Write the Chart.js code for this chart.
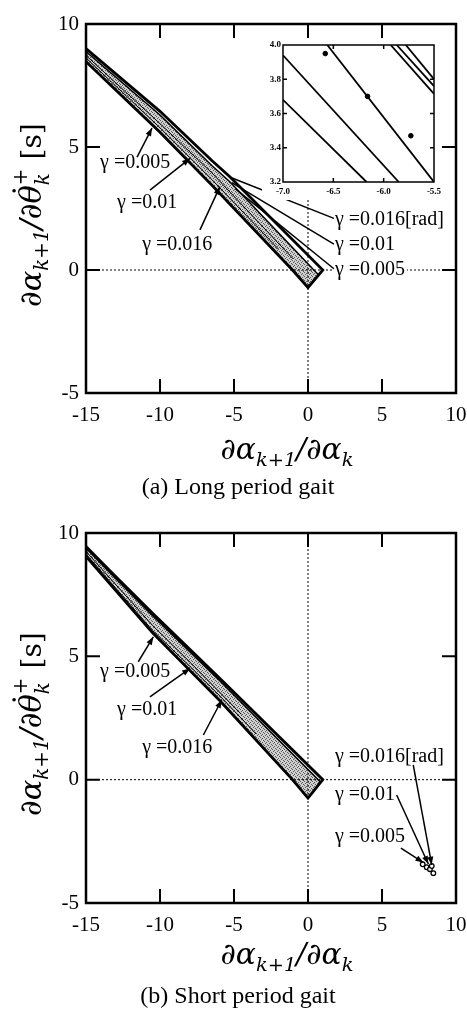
<!DOCTYPE html>
<html>
<head>
<meta charset="utf-8">
<script src="https://cdn.jsdelivr.net/npm/chart.js@4.4.1/dist/chart.umd.min.js"></script>
<style>
    body { margin: 0; background: #fff; }
    #wrap { position: relative; width: 467px; height: 1011px; }
    #wrap canvas { position: absolute; }
</style>
</head>
<body>
<div id="wrap">
    <canvas id="cLong" width="467" height="505" style="left:0;top:0"></canvas>
    <canvas id="cInset" width="186" height="160" style="left:262px;top:40px"></canvas>
    <canvas id="cShort" width="467" height="506" style="left:0;top:505px"></canvas>
</div>
<script>
// axes
var xTicks = [-15, -10, -5, 0, 5, 10];
var yTicks = [-5, 0, 5, 10];

// (a) long period gait: outline, shaded region and inner lines [x, y]
var longOuter = [[-15, 9.0], [-10, 6.45], [-6.5, 4.45], [-5.3, 3.8], [1.0, 0], [0, -0.72], [-1.05, 0], [-6.5, 3.45], [-10, 5.6], [-15, 8.47], [-15, 9.0]];
var longShade = [[-15, 8.88], [-10, 6.3], [-6.5, 4.25], [-5.3, 3.6], [0.72, -0.2], [0, -0.72], [-1.05, 0], [-6.5, 3.45], [-10, 5.6], [-15, 8.47], [-15, 8.88]];
var longThinA = [[-15, 8.62], [-10, 5.78], [-6.5, 3.68], [-2.0, 0.85]];
var longThinB = [[-15, 8.72], [-10, 5.95], [-6.5, 3.95], [-1.0, 0.45]];

var leftNames = ['γ =0.005', 'γ =0.01', 'γ =0.016'];
var rightNames = ['γ =0.016[rad]', 'γ =0.01', 'γ =0.005'];

var longLeftPos = [[-14.05, 4.35], [-12.9, 2.72], [-11.2, 1.02]];
var longLeftArrows = [[[-11.55, 4.59], [-10.54, 5.77]], [[-10.68, 3.25], [-7.97, 4.54]], [[-7.3, 1.63], [-5.95, 3.39]]];
var longRightPos = [[1.82, 2.03], [1.82, 1.02], [1.82, 0.0]];
var longRightLeaders = [[[1.75, 2.1], [-5.3, 3.78]], [[1.75, 1.05], [-5.15, 3.55]], [[1.75, 0.05], [-4.9, 3.3]]];

// inset of (a)
var insetXTicks = [-7.0, -6.5, -6.0, -5.5];
var insetYTicks = [3.2, 3.4, 3.6, 3.8, 4.0];
var insetLines = [
    [[-7, 3.68], [-6.17, 3.2]],
    [[-7, 3.94], [-5.85, 3.2]],
    [[-6.56, 4.0], [-5.5, 3.2]],
    [[-5.93, 4.0], [-5.5, 3.715]],
    [[-5.87, 4.0], [-5.5, 3.76]],
    [[-5.78, 4.0], [-5.5, 3.8]]
];
var insetDots = [[-6.58, 3.95], [-6.16, 3.70], [-5.73, 3.47]];

// (b) short period gait
var shortOuter = [[-15, 9.45], [-13.1, 8.3], [-10.5, 6.75], [-5.95, 4.1], [1.0, 0], [0, -0.75], [-1.05, 0], [-5.95, 3.2], [-10.5, 5.95], [-15, 9.05], [-15, 9.45]];
var shortShade = [[-15, 9.38], [-13.1, 8.22], [-10.5, 6.65], [-5.95, 4.0], [0.85, -0.1], [0, -0.75], [-1.05, 0], [-5.95, 3.2], [-10.5, 5.95], [-15, 9.05], [-15, 9.38]];
var shortThinA = [[-15, 9.15], [-10.5, 6.05], [-7.9, 4.55], [-5.8, 3.3], [-3.5, 1.85]];
var shortThinB = [[-15, 9.25], [-10.5, 6.25], [-7.9, 4.72], [-4.5, 2.65]];
var shortCircles = [[7.75, -3.43], [8.02, -3.55], [8.24, -3.63], [8.36, -3.5], [8.47, -3.79]];

var shortLeftPos = [[-14.05, 4.38], [-12.9, 2.83], [-11.2, 1.29]];
var shortLeftArrows = [[[-11.47, 4.78], [-10.45, 5.79]], [[-10.68, 3.36], [-7.97, 4.51]], [[-7.07, 1.81], [-5.83, 3.23]]];
var shortRightPos = [[1.82, 0.93], [1.82, -0.62], [1.82, -2.31]];
var shortRightArrows = [[[7.11, 0.6], [8.36, -3.45]], [[5.99, -0.62], [8.13, -3.42]], [[6.28, -2.78], [7.8, -3.36]]];


var SERIF = '"Liberation Serif", "Times New Roman", serif';
var MATH = '"DejaVu Serif", serif';

function pts(arr) {
    return arr.map(function (p) { return {x: p[0], y: p[1]}; });
}

// gris punteado como en la figura impresa
var stipple = (function () {
    var c = document.createElement('canvas');
    c.width = 4; c.height = 4;
    var g = c.getContext('2d');
    g.fillStyle = '#cfcfcf';
    g.fillRect(0, 0, 4, 4);
    g.fillStyle = '#5a5a5a';
    g.fillRect(0, 0, 1, 1);
    g.fillRect(2, 1, 1, 1);
    g.fillRect(1, 2, 1, 1);
    g.fillRect(3, 3, 1, 1);
    return g.createPattern(c, 'repeat');
})();

function lineSet(arr, width, order) {
    return {
        data: pts(arr), showLine: true, borderColor: '#000', borderWidth: width,
        pointRadius: 0, fill: false, order: order, borderJoinStyle: 'miter'
    };
}

function shapeSet(arr, order) {
    return {
        data: pts(arr), showLine: true, borderColor: '#000', borderWidth: 1.5,
        pointRadius: 0, fill: 'shape', backgroundColor: stipple, order: order
    };
}

function drawArrow(ctx, x1, y1, x2, y2, head) {
    ctx.beginPath();
    ctx.moveTo(x1, y1);
    ctx.lineTo(x2, y2);
    ctx.stroke();
    if (head) {
        var a = Math.atan2(y2 - y1, x2 - x1), L = 8, W = 3;
        ctx.beginPath();
        ctx.moveTo(x2, y2);
        ctx.lineTo(x2 - L * Math.cos(a) + W * Math.sin(a), y2 - L * Math.sin(a) - W * Math.cos(a));
        ctx.lineTo(x2 - L * Math.cos(a) - W * Math.sin(a), y2 - L * Math.sin(a) + W * Math.cos(a));
        ctx.closePath();
        ctx.fill();
    }
}

function label(ctx, text, x, y) {
    ctx.font = '20px ' + SERIF;
    var w = ctx.measureText(text).width;
    ctx.fillStyle = '#fff';
    ctx.fillRect(x - 2, y - 10, w + 4, 20);
    ctx.fillStyle = '#000';
    ctx.textAlign = 'left';
    ctx.textBaseline = 'middle';
    ctx.fillText(text, x, y);
}

function runFont(r, k) {
    return (r.up ? '' : 'italic ') + (r.s * k).toFixed(1) + 'px ' + MATH;
}

// texto matematico con subindices, ajustado a un ancho dado
function drawMath(ctx, runs, cx, cy, width) {
    var total = 0;
    runs.forEach(function (r) {
        ctx.font = runFont(r, 1);
        var w = ctx.measureText(r.t).width;
        if (r.sup) w = Math.max(w, ctx.measureText(r.sup).width);
        total += w;
    });
    var k = width / total;
    var x = cx - width / 2;
    ctx.textAlign = 'left';
    ctx.textBaseline = 'alphabetic';
    runs.forEach(function (r) {
        ctx.font = runFont(r, k);
        var w = ctx.measureText(r.t).width;
        ctx.fillText(r.t, x, cy + (r.dy || 0) * k);
        if (r.sup) {
            ctx.fillText(r.sup, x, cy + r.supDy * k);
            w = Math.max(w, ctx.measureText(r.sup).width);
        }
        if (r.dot) {
            ctx.beginPath();
            ctx.arc(x + w / 2 + 3 * k, cy - 23 * k, 1.8, 0, Math.PI * 2);
            ctx.fill();
        }
        x += w;
    });
}

var xTitleRuns = [
    {t: '∂α', s: 26}, {t: 'k+1', s: 17, dy: 6},
    {t: '/∂α', s: 26}, {t: 'k', s: 17, dy: 6}
];
var yTitleRuns = [
    {t: '∂α', s: 26}, {t: 'k+1', s: 17, dy: 6},
    {t: '/∂', s: 26}, {t: 'θ', s: 26, dot: true},
    {t: 'k', s: 17, dy: 7, sup: '+', supDy: -12},
    {t: ' [s]', s: 24, up: true}
];

// marco, ticks, textos y flechas de cada grafico principal
function makeDecor(cfg) {
    return {
        id: 'decor',
        afterDatasetsDraw: function (chart) {
            var ctx = chart.ctx, a = chart.chartArea;
            var xs = chart.scales.x, ys = chart.scales.y;
            function px(v) { return xs.getPixelForValue(v); }
            function py(v) { return ys.getPixelForValue(v); }
            ctx.save();
            ctx.strokeStyle = '#000';
            ctx.fillStyle = '#000';

            // ejes punteados
            ctx.lineWidth = 1;
            ctx.setLineDash([2, 2]);
            ctx.beginPath();
            ctx.moveTo(px(0), a.top);
            ctx.lineTo(px(0), a.bottom);
            ctx.moveTo(a.left, py(0));
            ctx.lineTo(a.right, py(0));
            ctx.stroke();
            ctx.setLineDash([]);

            // etiquetas gamma
            cfg.leftPos.forEach(function (p, i) { label(ctx, leftNames[i], px(p[0]), py(p[1])); });
            cfg.rightPos.forEach(function (p, i) { label(ctx, rightNames[i], px(p[0]), py(p[1])); });

            ctx.lineWidth = 1.5;
            cfg.leftArrows.forEach(function (s) {
                drawArrow(ctx, px(s[0][0]), py(s[0][1]), px(s[1][0]), py(s[1][1]), true);
            });
            cfg.rightArrows.forEach(function (s) {
                drawArrow(ctx, px(s[0][0]), py(s[0][1]), px(s[1][0]), py(s[1][1]), cfg.rightHeads);
            });

            // marco y ticks hacia dentro
            ctx.lineWidth = 2.5;
            ctx.strokeRect(a.left, a.top, a.right - a.left, a.bottom - a.top);
            ctx.lineWidth = 2;
            ctx.beginPath();
            xTicks.forEach(function (v) {
                if (v <= xs.min || v >= xs.max) return;
                ctx.moveTo(px(v), a.top); ctx.lineTo(px(v), a.top + 14);
                ctx.moveTo(px(v), a.bottom); ctx.lineTo(px(v), a.bottom - 14);
            });
            yTicks.forEach(function (v) {
                if (v <= ys.min || v >= ys.max) return;
                ctx.moveTo(a.left, py(v)); ctx.lineTo(a.left + 14, py(v));
                ctx.moveTo(a.right, py(v)); ctx.lineTo(a.right - 14, py(v));
            });
            ctx.stroke();

            ctx.font = '21px ' + SERIF;
            ctx.textBaseline = 'middle';
            ctx.textAlign = 'center';
            xTicks.forEach(function (v) { ctx.fillText(String(v), px(v), a.bottom + 22); });
            ctx.textAlign = 'right';
            yTicks.forEach(function (v) { ctx.fillText(String(v), a.left - 7, py(v)); });

            // titulos de ejes
            drawMath(ctx, xTitleRuns, 287, a.bottom + cfg.titleDy, 133);
            ctx.save();
            ctx.translate(31, a.top + 191);
            ctx.rotate(-Math.PI / 2);
            drawMath(ctx, yTitleRuns, 0, 10, 184);
            ctx.restore();

            ctx.font = '24px ' + SERIF;
            ctx.textAlign = 'center';
            ctx.textBaseline = 'middle';
            ctx.fillText(cfg.caption, 238, a.bottom + cfg.captionDy);
            ctx.restore();
        }
    };
}

function mainOptions(pad) {
    return {
        responsive: false,
        animation: false,
        layout: {padding: pad},
        plugins: {legend: {display: false}, tooltip: {enabled: false}},
        scales: {
            x: {type: 'linear', min: -15, max: 10, display: false},
            y: {type: 'linear', min: -5, max: 10, display: false}
        }
    };
}

new Chart(document.getElementById('cLong'), {
    type: 'scatter',
    data: {
        datasets: [
            lineSet(longOuter, 2.8, 1),
            lineSet(longThinA, 1, 3),
            lineSet(longThinB, 1, 3),
            shapeSet(longShade, 5)
        ]
    },
    options: mainOptions({left: 86, top: 24, right: 11, bottom: 112}),
    plugins: [makeDecor({
        leftPos: longLeftPos, leftArrows: longLeftArrows,
        rightPos: longRightPos, rightArrows: longRightLeaders, rightHeads: false,
        caption: '(a) Long period gait', titleDy: 66, captionDy: 95
    })]
});

new Chart(document.getElementById('cShort'), {
    type: 'scatter',
    data: {
        datasets: [
            {
                data: pts(shortCircles), showLine: false, pointRadius: 2.3, pointBorderWidth: 1.3,
                pointBackgroundColor: '#fff', pointBorderColor: '#000', order: 0
            },
            lineSet(shortOuter, 2.8, 1),
            lineSet(shortThinA, 1, 3),
            lineSet(shortThinB, 1, 3),
            shapeSet(shortShade, 5)
        ]
    },
    options: mainOptions({left: 86, top: 28, right: 11, bottom: 108}),
    plugins: [makeDecor({
        leftPos: shortLeftPos, leftArrows: shortLeftArrows,
        rightPos: shortRightPos, rightArrows: shortRightArrows, rightHeads: true,
        caption: '(b) Short period gait', titleDy: 61, captionDy: 94
    })]
});

// recuadro ampliado
var insetDecor = {
    id: 'insetDecor',
    beforeDraw: function (chart) {
        var ctx = chart.ctx, a = chart.chartArea;
        ctx.save();
        ctx.fillStyle = '#fff';
        ctx.fillRect(0, 0, a.right + 6, chart.height);
        ctx.restore();
    },
    afterDatasetsDraw: function (chart) {
        var ctx = chart.ctx, a = chart.chartArea;
        var xs = chart.scales.x, ys = chart.scales.y;
        ctx.save();
        ctx.strokeStyle = '#000';
        ctx.fillStyle = '#000';
        ctx.lineWidth = 1.5;
        ctx.strokeRect(a.left, a.top, a.right - a.left, a.bottom - a.top);
        ctx.beginPath();
        insetXTicks.forEach(function (v) {
            var x = xs.getPixelForValue(v);
            if (v <= xs.min || v >= xs.max) return;
            ctx.moveTo(x, a.top); ctx.lineTo(x, a.top + 4);
            ctx.moveTo(x, a.bottom); ctx.lineTo(x, a.bottom - 4);
        });
        insetYTicks.forEach(function (v) {
            var y = ys.getPixelForValue(v);
            if (v <= ys.min || v >= ys.max) return;
            ctx.moveTo(a.left, y); ctx.lineTo(a.left + 4, y);
            ctx.moveTo(a.right, y); ctx.lineTo(a.right - 4, y);
        });
        ctx.stroke();
        ctx.font = 'bold 9px ' + SERIF;
        ctx.textBaseline = 'middle';
        ctx.textAlign = 'center';
        insetXTicks.forEach(function (v) { ctx.fillText(v.toFixed(1), xs.getPixelForValue(v), a.bottom + 10); });
        ctx.textAlign = 'right';
        insetYTicks.forEach(function (v) { ctx.fillText(v.toFixed(1), a.left - 2, ys.getPixelForValue(v)); });
        ctx.restore();
    }
};

var insetSets = insetLines.map(function (seg) { return lineSet(seg, 1.8, 2); });
insetSets.push({
    data: pts(insetDots), showLine: false, pointRadius: 2.3,
    pointBackgroundColor: '#000', pointBorderColor: '#000', order: 0
});

new Chart(document.getElementById('cInset'), {
    type: 'scatter',
    data: {datasets: insetSets},
    options: {
        responsive: false,
        animation: false,
        layout: {padding: {left: 21, top: 3, right: 14, bottom: 18}},
        plugins: {legend: {display: false}, tooltip: {enabled: false}},
        scales: {
            x: {type: 'linear', min: -7.0, max: -5.5, display: false},
            y: {type: 'linear', min: 3.2, max: 4.0, display: false}
        }
    },
    plugins: [insetDecor]
});
</script>
</body>
</html>
